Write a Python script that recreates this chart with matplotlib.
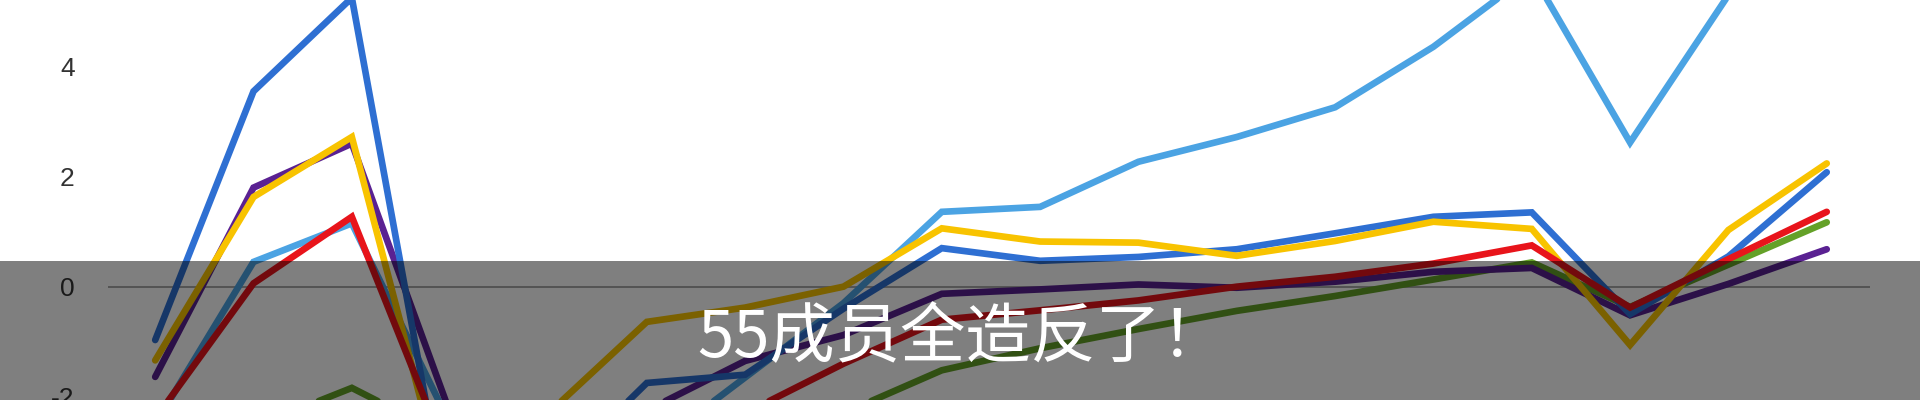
import numpy as np
import matplotlib
matplotlib.use("Agg")
import matplotlib.pyplot as plt
from matplotlib.patches import Rectangle

# Werte (18 Zeitpunkte)
x_index = list(range(18))
y_ticks = [-2, 0, 2, 4]
y_tick_labels = ["-2", "0", "2", "4"]

dunkelblau = [-0.97, 3.55, 5.25, -4.5, -3.5, -1.75, -1.6, -0.4, 0.7, 0.47,
              0.54, 0.68, 0.97, 1.27, 1.35, -0.5, 0.55, 2.08]
hellblau = [-2.5, 0.45, 1.15, -2.5, -3.2, -3.0, -1.65, -0.3, 1.36, 1.45,
            2.27, 2.72, 3.26, 4.36, 5.7, 2.62, 5.3, 5.9]
gelb = [-1.34, 1.63, 2.72, -4.1, -2.3, -0.64, -0.38, 0.0, 1.06, 0.82,
        0.8, 0.56, 0.83, 1.18, 1.05, -1.06, 1.03, 2.24]
lila = [-1.64, 1.8, 2.6, -2.3, -2.8, -2.25, -1.35, -0.88, -0.13, -0.05,
        0.04, -0.02, 0.09, 0.27, 0.34, -0.52, 0.05, 0.68]
rot = [-2.4, 0.06, 1.27, -3.2, -3.0, -2.7, -2.3, -1.4, -0.6, -0.43,
       -0.25, 0.0, 0.18, 0.42, 0.75, -0.38, 0.5, 1.36]
gruen = [-3.0, -2.55, -1.84, -2.75, -3.2, -3.3, -2.8, -2.3, -1.52, -1.12,
         -0.77, -0.44, -0.17, 0.13, 0.44, -0.37, 0.4, 1.17]

banner_text = "55成员全造反了！"

# Zeichenreihenfolge: unten zuerst
serien = [
    (gruen, "#64A128"),
    (lila, "#5A2192"),
    (hellblau, "#4BA3E3"),
    (dunkelblau, "#2E6FD2"),
    (gelb, "#F8C300"),
    (rot, "#E8141B"),
]


def main():
    fig = plt.figure(figsize=(19.2, 4.0), dpi=100)
    fig.patch.set_facecolor("white")

    left, right = 108 / 1920, 1870 / 1920
    ax = fig.add_axes([left, 0.0, right - left, 1.0])
    ax.set_facecolor("white")

    # Nulllinie
    ax.axhline(0, color="#9a9a9a", lw=1.2, zorder=1)

    for werte, farbe in serien:
        ax.plot(x_index, werte, color=farbe, lw=4.8,
                solid_joinstyle="miter", solid_capstyle="round", zorder=2)

    ax.set_xlim(-0.48, 17.44)
    ax.set_ylim(-2.06, 5.21)
    ax.set_xticks([])
    ax.set_yticks(y_ticks)
    ax.set_yticklabels(y_tick_labels, fontsize=19, color="#333333",
                       family="Liberation Sans")
    ax.tick_params(axis="y", length=0, pad=24)
    for s in ax.spines.values():
        s.set_visible(False)

    # halbtransparenter Untertitel-Balken
    banner_h = (400 - 261) / 400
    fig.add_artist(Rectangle((0, 0), 1, banner_h, transform=fig.transFigure,
                             facecolor="black", alpha=0.5, edgecolor="none",
                             zorder=10))
    fig.text(962 / 1920, 1 - 339 / 400, banner_text, color="white",
             fontsize=47, fontweight=300, ha="center", va="center", zorder=11,
             family=["Noto Sans CJK SC", "DejaVu Sans"])

    fig.savefig("out.png", dpi=100)


if __name__ == "__main__":
    main()
